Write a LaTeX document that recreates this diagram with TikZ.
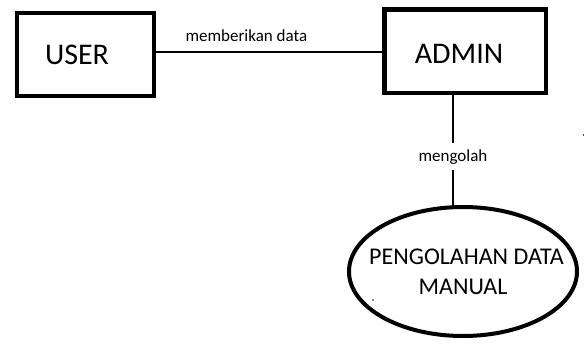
\documentclass[tikz,border=0pt]{standalone}
\usepackage{fontspec}
\setmainfont{Carlito}
\usetikzlibrary{shapes.geometric}
\begin{document}
\begin{tikzpicture}[x=1pt,y=-1pt,
  entitybox/.style={draw=black, line width=#1, rectangle, inner sep=0pt, font=\fontsize{30}{36}\selectfont},
  procell/.style={draw=black, line width=4pt, ellipse, inner xsep=-25pt, inner ysep=0pt, align=center, font=\fontsize{24}{31}\selectfont},
  flowline/.style={draw=black, line width=1.4pt},
  flowlabel/.style={font=\fontsize{17}{20}\selectfont, inner sep=3.5pt}]
\useasboundingbox (0,0) rectangle (584,343);
\fill[white] (0,0) rectangle (584,343);
\node[entitybox=4pt, minimum width=137pt, minimum height=83pt] (USER) at (85.5,54.5) {\hspace*{-17pt}USER};
\node[entitybox=4.5pt, minimum width=161.5pt, minimum height=83.5pt] (ADMIN) at (465,51) {\raisebox{-2.5pt}[\height][\depth]{\hspace*{-12pt}ADMIN}};
\node[procell, minimum width=228pt, minimum height=129pt] (PROC) at (463,271.5) {\raisebox{-1pt}[\height][\depth]{\hspace*{7pt}PENGOLAHAN DATA}\\MANUAL};
\draw[flowline] ([yshift=2.5pt]USER.east) -- ([yshift=2.5pt]USER.east -| ADMIN.west)
  node[flowlabel, pos=0.4, above=6.5pt] {memberikan data};
\draw[flowline] ([xshift=-12pt]ADMIN.south) -- ([xshift=-12pt,yshift=-2pt]ADMIN.south |- PROC.north)
  node[flowlabel, pos=0.55, fill=white, inner ysep=6pt, inner xsep=1pt] {mengolah};
\fill[blue!70!black] (373,300) circle (0.8pt);
\fill[black!70] (582.5,134) rectangle (584,136);
\end{tikzpicture}
\end{document}
